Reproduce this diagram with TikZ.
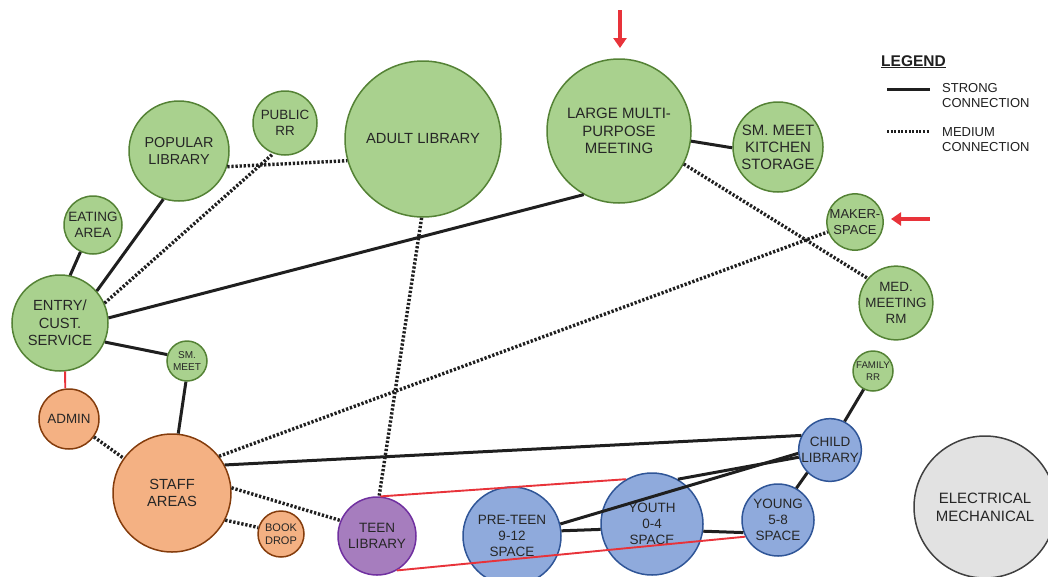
\documentclass[tikz,border=0pt]{standalone}
\usepackage{fontspec}
\setmainfont{Liberation Sans}
\usetikzlibrary{arrows.meta}

\definecolor{pubfill}{HTML}{A9D18E}
\definecolor{publine}{HTML}{548235}
\definecolor{stafffill}{HTML}{F4B183}
\definecolor{staffline}{HTML}{843C0C}
\definecolor{kidfill}{HTML}{8FAADC}
\definecolor{kidline}{HTML}{2F5597}
\definecolor{teenfill}{HTML}{A67DBE}
\definecolor{teenline}{HTML}{7030A0}
\definecolor{mechfill}{HTML}{E2E2E2}
\definecolor{mechline}{HTML}{404040}
\definecolor{linkred}{HTML}{E8333A}
\definecolor{labelgray}{HTML}{262626}

\newcommand{\fs}[2]{\fontsize{#1}{#2}\selectfont}

\tikzset{
  room/.style={circle, line width=1.5pt, align=center, inner sep=0pt,
    text=labelgray, minimum size=#1, font=\fs{14.7}{17.5}},
  pubroom/.style={room=#1, draw=publine, fill=pubfill},
  staffroom/.style={room=#1, draw=staffline, fill=stafffill},
  kidroom/.style={room=#1, draw=kidline, fill=kidfill, font=\fs{13.5}{16}},
  teenroom/.style={room=#1, draw=teenline, fill=teenfill},
  mechroom/.style={room=#1, draw=mechline, fill=mechfill},
  strongline/.style={line width=3pt, black!88},
  mediumline/.style={line width=3.4pt, black!88, dash pattern=on 2.3pt off 1.8pt},
  redline/.style={line width=1.9pt, linkred},
  markarrow/.style={line width=4.5pt, linkred, -{Triangle[width=13pt,length=10pt]}}
}

\begin{document}
\begin{tikzpicture}[x=1pt,y=-1pt]
\useasboundingbox (0,0) rectangle (1048,576);

% public side
\node[pubroom=156pt] (adult) at (423,139) {ADULT LIBRARY};
\node[pubroom=144pt, font=\fs{15}{17.5}] (largemp) at (619,131) {LARGE MULTI-\\PURPOSE\\MEETING};
\node[pubroom=90pt, font=\fs{15}{17}] (kitchen) at (778,147) {SM. MEET\\KITCHEN\\STORAGE};
\node[pubroom=100pt, font=\fs{14.4}{17}] (popular) at (179,151) {POPULAR\\LIBRARY};
\node[pubroom=64pt, font=\fs{13.4}{16}] (publicrr) at (285,123) {PUBLIC\\RR};
\node[pubroom=58pt, font=\fs{13.5}{16}] (eating) at (93,225) {EATING\\AREA};
\node[pubroom=96pt] (entry) at (60,323) {ENTRY/\\CUST.\\SERVICE};
\node[pubroom=40pt, font=\fs{10}{12}] (smmeet) at (187,361) {SM.\\MEET};
\node[pubroom=56pt, font=\fs{13}{16}] (maker) at (855,222) {MAKER-\\SPACE};
\node[pubroom=62pt, font=\fs{13.4}{16}] (medmeet) at (896,303) {MED.\\MEETING\\RM};
\node[pubroom=40pt, font=\fs{9.7}{12}] (familyrr) at (873,371) {FAMILY\\RR};

% staff side
\node[staffroom=60pt, font=\fs{13.4}{16}] (admin) at (69,419) {ADMIN};
\node[staffroom=118pt] (staff) at (172,493) {STAFF\\AREAS};
\node[staffroom=46pt, font=\fs{11}{13}] (bookdrop) at (281,534) {BOOK\\DROP};

% teen and children
\node[teenroom=78pt, font=\fs{13.5}{16}] (teen) at (377,536) {TEEN\\LIBRARY};
\node[kidroom=98pt] (preteen) at (512,536) {PRE-TEEN\\9-12\\SPACE};
\node[kidroom=102pt] (youth) at (652,524) {YOUTH\\0-4\\SPACE};
\node[kidroom=72pt] (young) at (778,520) {YOUNG\\5-8\\SPACE};
\node[kidroom=58pt] (child) at (830,450) {CHILD\\LIBRARY};

\node[mechroom=142pt, font=\fs{15}{18}] (mech) at (985,507) {ELECTRICAL\\MECHANICAL};

% strong connections
\draw[strongline] (entry.78) -- (eating.245);
\draw[strongline] (entry.41) -- (popular.252);
\draw[strongline] (entry.6) -- (largemp.241);
\draw[strongline] (entry.-23) -- (smmeet.162);
\draw[strongline] (smmeet.-93) -- (staff.84);
\draw[strongline] (largemp.-8) -- (kitchen.181);
\draw[strongline] (staff.28) -- (child.153);
\draw[strongline] (child.186) -- (preteen.14);
\draw[strongline] (child.193) -- (youth.60);
\draw[strongline] (preteen.6) -- (youth.186);
\draw[strongline] (youth.-8) -- (young.200);
\draw[strongline] (child.225) -- (young.60);
\draw[strongline] (child.63) -- (familyrr.243);

% medium connections
\draw[mediumline] (popular.-18) -- (adult.196);
\draw[mediumline] (entry.24) -- (publicrr.249);
\draw[mediumline] (adult.-91) -- (teen.87);
\draw[mediumline] (staff.38) -- (maker.200);
\draw[mediumline] (largemp.-27) -- (medmeet.139);
\draw[mediumline] (admin) -- (staff);
\draw[mediumline] (staff.5) -- (teen.157);
\draw[mediumline] (staff.-27) -- (bookdrop.164);

% red links
\draw[redline] (entry.-84) -- (admin.97);
\draw[redline] (teen.85) -- (youth.120);
\draw[redline] (teen.-60) -- (young.207);

% markers
\coordinate (topmark) at (620,10);
\coordinate (topmarkend) at (620,48);
\coordinate (sidemark) at (930,219);
\coordinate (sidemarkend) at (891,219);
\draw[markarrow] (topmark) -- (topmarkend);
\draw[markarrow] (sidemark) -- (sidemarkend);

% legend
\node[anchor=base west, font=\bfseries\fs{15.5}{18}, text=black!88, inner sep=0pt] (legend) at (881,66) {\underline{LEGEND}};
\coordinate (strongA) at (887,89);
\coordinate (strongB) at (930,89);
\coordinate (mediumA) at (887,131);
\coordinate (mediumB) at (930,131);
\draw[strongline] (strongA) -- (strongB);
\draw[line width=3pt, black!88, dash pattern=on 2pt off 1.6pt] (mediumA) -- (mediumB);
\node[anchor=west, align=left, font=\fs{13}{15}, text=black!88, inner sep=0pt] (strongtext) at (942,96) {STRONG\\CONNECTION};
\node[anchor=west, align=left, font=\fs{13}{15}, text=black!88, inner sep=0pt] (mediumtext) at (942,140) {MEDIUM\\CONNECTION};
\end{tikzpicture}
\end{document}
